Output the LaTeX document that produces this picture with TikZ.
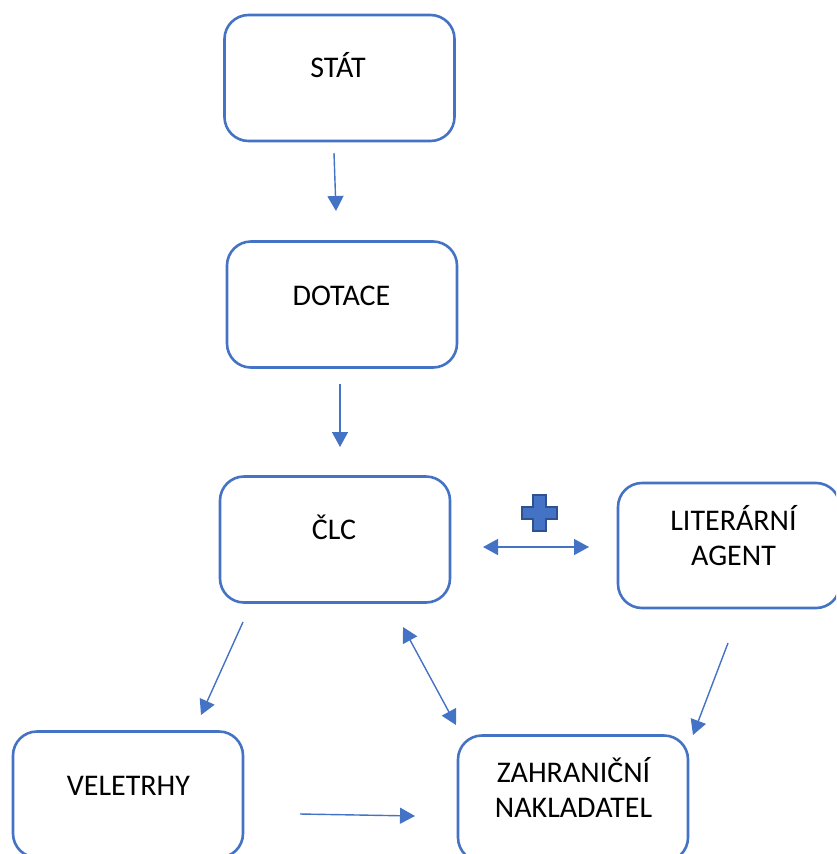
\documentclass[tikz,border=0pt]{standalone}
\usepackage{fontspec}
\setmainfont{Carlito}
\usetikzlibrary{arrows.meta}
\definecolor{bblue}{HTML}{4472C4}
\definecolor{dblue}{HTML}{2F528F}
\tikzset{
  box/.style={draw=bblue, line width=2.6pt, rounded corners=24pt, rectangle, minimum width=230pt, minimum height=126pt, inner sep=0pt},
  txt/.style={font=\fontsize{30}{35}\selectfont, text=black, inner sep=0pt, align=center, anchor=base},
  conn/.style={draw=bblue, line width=1.4pt, -{Triangle[length=15pt,width=16pt]}},
  dconn/.style={draw=bblue, line width=1.4pt, {Triangle[length=15pt,width=16pt]}-{Triangle[length=15pt,width=16pt]}},
}
\begin{document}
\begin{tikzpicture}[x=1pt,y=-1pt]
\useasboundingbox (0,0) rectangle (836,854);
\clip (0,0) rectangle (836,854);
% boxes
\node[box] (stat) at (339.5,78) {};
\node[box] (dotace) at (342,304.5) {};
\node[box] (clc) at (335,539.5) {};
\node[box, minimum width=222pt, minimum height=125pt] (agent) at (729,545.5) {};
\node[box] (veletrhy) at (128,794.5) {};
\node[box] (zahr) at (573,798.5) {};
% texts
\node[txt] (tstat) at (338,77) {STÁT};
\node[txt] (tdotace) at (341.5,305) {DOTACE};
\node[txt] (tclc) at (334,539) {ČLC};
\node[txt] (tagent) at (733.5,565) {LITERÁRNÍ\\AGENT};
\node[txt] (tveletrhy) at (128.5,795) {VELETRHY};
\node[txt] (tzahr) at (573.5,817) {ZAHRANIČNÍ\\NAKLADATEL};
% connector end points
\coordinate (a1s) at (334,153); \coordinate (a1e) at (336,211);
\coordinate (a2s) at (340,384); \coordinate (a2e) at (340,447);
\coordinate (a3s) at (483,547); \coordinate (a3e) at (589,547);
\coordinate (a4s) at (243,622); \coordinate (a4e) at (201,715);
\coordinate (a5s) at (403,627); \coordinate (a5e) at (456,725);
\coordinate (a6s) at (728,643); \coordinate (a6e) at (693,735);
\coordinate (a7s) at (300,814); \coordinate (a7e) at (415,816);
\draw[conn] (a1s) -- (a1e);
\draw[conn] (a2s) -- (a2e);
\draw[dconn] (a3s) -- (a3e);
\draw[conn] (a4s) -- (a4e);
\draw[dconn] (a5s) -- (a5e);
\draw[conn] (a6s) -- (a6e);
\draw[conn] (a7s) -- (a7e);
% plus sign
\coordinate (plus) at (539.5,513);
\draw[fill=bblue, draw=dblue, line width=1.5pt, shift={(plus)}]
  (-6.5,-18) -- (6.5,-18) -- (6.5,-6) -- (17.5,-6) -- (17.5,6) -- (6.5,6) -- (6.5,18) -- (-6.5,18) -- (-6.5,6) -- (-17.5,6) -- (-17.5,-6) -- (-6.5,-6) -- cycle;
\end{tikzpicture}
\end{document}
